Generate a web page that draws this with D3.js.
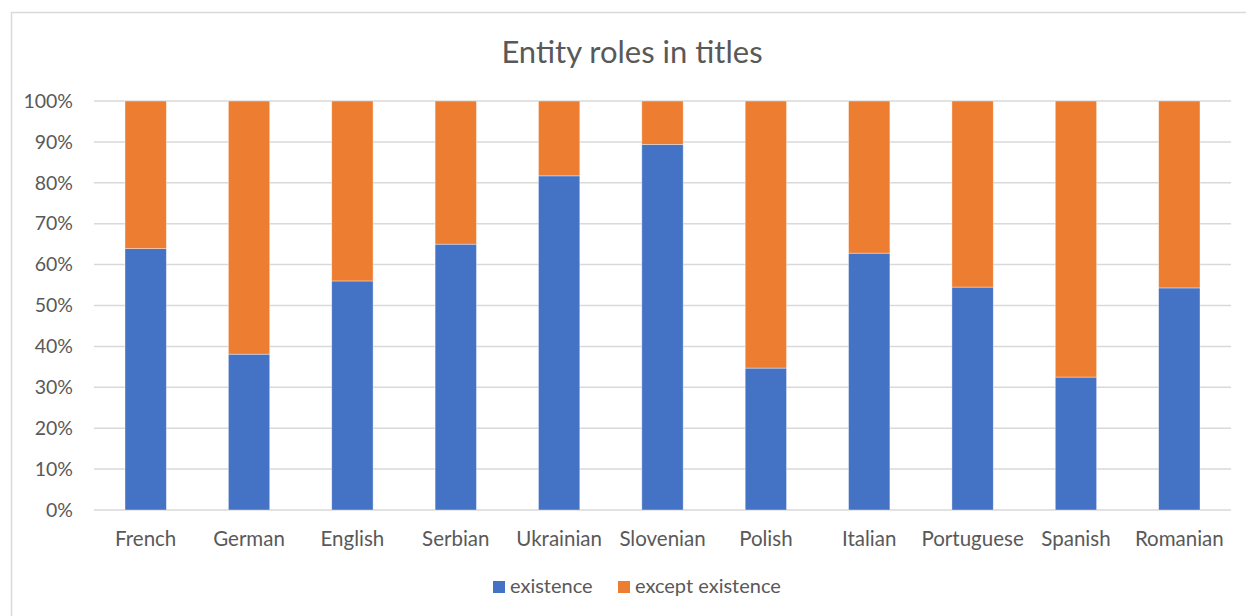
<!DOCTYPE html>
<html>
<head>
<meta charset="utf-8">
<script src="https://cdn.jsdelivr.net/npm/d3@7"></script>
<style>
  html, body { margin: 0; padding: 0; background: #ffffff; }
  svg { display: block; }
  text { font-family: Lato, "Open Sans", sans-serif; fill: #595959; }
</style>
</head>
<body>
<svg id="chart" width="1246" height="616"></svg>
<script>
// Languages shown along the x axis
const languages = ["French", "German", "English", "Serbian", "Ukrainian", "Slovenian",
                   "Polish", "Italian", "Portuguese", "Spanish", "Romanian"];
// Share of titles where the entity role is "existence" (fraction of 1)
const existence = [0.639, 0.381, 0.560, 0.650, 0.817, 0.894, 0.347, 0.628, 0.545, 0.325, 0.543];
// Remaining share: any other role
const exceptExistence = existence.map(v => 1 - v);
const seriesNames = ["existence", "except existence"];
const seriesColors = ["#4472C4", "#ED7D31"];
const yTicks = [0, 0.1, 0.2, 0.3, 0.4, 0.5, 0.6, 0.7, 0.8, 0.9, 1.0];
const chartTitle = "Entity roles in titles";

const svg = d3.select("#chart");
const plot = { left: 94, right: 1231, top: 101, bottom: 510 };

// Outer chart frame
svg.append("rect")
  .attr("x", 11.5).attr("y", 12.5)
  .attr("width", 1260).attr("height", 640)
  .attr("fill", "#ffffff")
  .attr("stroke", "#d9d9d9").attr("stroke-width", 1.5);

// Title
svg.append("text")
  .attr("x", 632).attr("y", 63)
  .attr("text-anchor", "middle")
  .style("font-size", "31px")
  .text(chartTitle);

const x = d3.scaleBand()
  .domain(languages)
  .range([plot.left, plot.right])
  .paddingInner(0.6)
  .paddingOuter(0.3);

const y = d3.scaleLinear()
  .domain([0, 1])
  .range([plot.bottom, plot.top]);

// Horizontal gridlines
svg.append("g")
  .selectAll("line")
  .data(yTicks)
  .join("line")
  .attr("x1", plot.left).attr("x2", plot.right)
  .attr("y1", d => y(d)).attr("y2", d => y(d))
  .attr("stroke", "#d9d9d9").attr("stroke-width", 1.5);

// Y axis labels
const yAxis = d3.axisLeft(y)
  .tickValues(yTicks)
  .tickFormat(d3.format(".0%"))
  .tickSize(0)
  .tickPadding(21);
const yg = svg.append("g")
  .attr("transform", `translate(${plot.left},0)`)
  .call(yAxis);
yg.select(".domain").remove();
yg.selectAll("text")
  .style("font-size", "19.5px")
  .style("font-family", "Lato, 'Open Sans', sans-serif")
  .attr("fill", "#595959");

// Stacked bars
const rows = languages.map((lang, i) => ({
  lang,
  "existence": existence[i],
  "except existence": exceptExistence[i]
}));
const stacked = d3.stack().keys(seriesNames)(rows);

svg.append("g")
  .selectAll("g")
  .data(stacked)
  .join("g")
  .attr("fill", (d, i) => seriesColors[i])
  .selectAll("rect")
  .data(d => d)
  .join("rect")
  .attr("x", d => x(d.data.lang))
  .attr("width", x.bandwidth())
  .attr("y", d => y(d[1]))
  .attr("height", d => y(d[0]) - y(d[1]))
  .attr("stroke", "#ffffff")
  .attr("stroke-opacity", 0.5)
  .attr("stroke-width", 0.75);

// X axis labels
const xAxis = d3.axisBottom(x).tickSize(0).tickPadding(21);
const xg = svg.append("g")
  .attr("transform", `translate(0,${plot.bottom})`)
  .call(xAxis);
xg.select(".domain").remove();
xg.selectAll("text")
  .style("font-size", "20.5px")
  .style("font-family", "Lato, 'Open Sans', sans-serif")
  .attr("fill", "#595959");

// Legend
const legend = svg.append("g").attr("transform", "translate(493,593)");
const legendItems = [
  { name: seriesNames[0], color: seriesColors[0], dx: 0 },
  { name: seriesNames[1], color: seriesColors[1], dx: 125 }
];
const li = legend.selectAll("g")
  .data(legendItems)
  .join("g")
  .attr("transform", d => `translate(${d.dx},0)`);
li.append("rect")
  .attr("x", 0).attr("y", -12)
  .attr("width", 12).attr("height", 12)
  .attr("fill", d => d.color);
li.append("text")
  .attr("x", 17).attr("y", 0)
  .style("font-size", "20px")
  .text(d => d.name);
</script>
</body>
</html>
